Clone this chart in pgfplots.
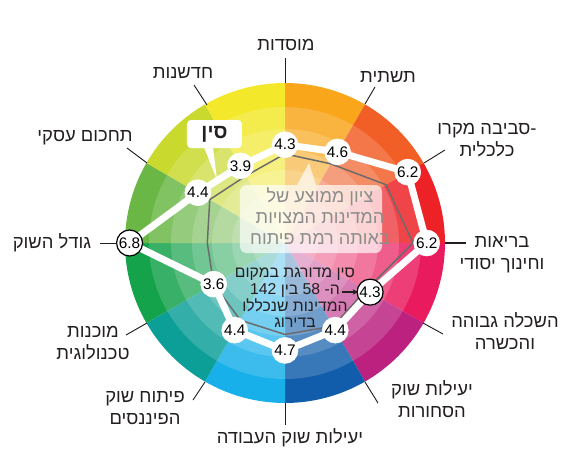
\documentclass[border=0pt]{standalone}
\usepackage{fontspec}
\setmainfont{Liberation Sans}
\newfontfamily\he[Script=Hebrew]{Liberation Sans}
\usepackage{pgfplots}
\pgfplotsset{compat=1.18}
\usepgfplotslibrary{polar}
\usetikzlibrary{backgrounds,arrows.meta}
\TeXXeTstate=1
\newcommand\R[1]{{\he\beginR #1\endR}}

\definecolor{s1}{HTML}{F9A61B}
\definecolor{s2}{HTML}{F15E26}
\definecolor{s3}{HTML}{EC2227}
\definecolor{s4}{HTML}{EA1A5E}
\definecolor{s5}{HTML}{BC2180}
\definecolor{s6}{HTML}{125DAB}
\definecolor{s7}{HTML}{17B0EA}
\definecolor{s8}{HTML}{0C9F98}
\definecolor{s9}{HTML}{14A24B}
\definecolor{s10}{HTML}{6AB746}
\definecolor{s11}{HTML}{C9D92E}
\definecolor{s12}{HTML}{F3E82A}
\definecolor{avg}{HTML}{6B6B6B}
\definecolor{lab}{HTML}{231F20}
\definecolor{gtxt}{HTML}{8C8C8C}

\begin{document}
\begin{tikzpicture}
\begin{polaraxis}[
    width=240pt, height=240pt, scale only axis,
    xmin=0, xmax=360, ymin=0, ymax=7,
    hide axis, clip=false,
    circ/.style={only marks, mark=*, mark size=0.1pt,
      mark options={draw=none, fill=none},
      nodes near coords, point meta=explicit symbolic,
      every node near coord/.style={circle, fill=white, draw=white, line width=0.4pt,
        minimum size=19.5pt, inner sep=0pt, anchor=center,
        font=\fontsize{11.5}{13}\selectfont, text=black}},
  ]
\coordinate (O) at (axis cs:0,0);
% average of countries at the same stage of development
\addplot[avg, line width=1.1pt, line join=round, mark=none] coordinates {
  (90,3.9) (60,4.0) (30,5.1) (0,5.6) (330,4.1) (300,4.2)
  (270,4.0) (240,3.9) (210,3.6) (180,3.4) (150,3.8) (120,3.4) (90,3.9)};
% China
\addplot[white, line width=5.2pt, line join=round, mark=none] coordinates {
  (90,4.3) (60,4.6) (30,6.2) (0,6.2) (330,4.3) (300,4.4)
  (270,4.7) (240,4.4) (210,3.6) (180,6.8) (150,4.4) (120,3.9) (90,4.3)};
\addplot[circ] coordinates {
  (90,4.3) [4.3] (60,4.6) [4.6] (30,6.2) [6.2] (0,6.2) [6.2]
  (300,4.4) [4.4] (270,4.7) [4.7] (240,4.4) [4.4] (210,3.6) [3.6]
  (150,4.4) [4.4] (120,3.9) [3.9]};
\addplot[circ, nodes near coords style={draw=black, line width=0.9pt}] coordinates {
  (330,4.3) [4.3] (180,6.8) [6.8]};
\end{polaraxis}

% colour wheel behind the plot
\begin{scope}[on background layer, shift={(O)}]
  \foreach \a/\c in {90/s1,60/s2,30/s3,0/s4,-30/s5,-60/s6,-90/s7,-120/s8,-150/s9,-180/s10,-210/s11,-240/s12}
    \fill[\c] (0,0) -- (\a:120pt) arc[start angle=\a, delta angle=-30, radius=120pt] -- cycle;
  \foreach \r in {102,85.5,69.75,54.75,39.75,24.75}
    \fill[white, opacity=.16] (0,0) circle (\r pt);
\end{scope}

\begin{scope}[shift={(O)}, x=0.75pt, y=-0.75pt, font=\fontsize{13.8}{16.5}\selectfont,
    lead/.style={draw=lab, line width=0.7pt}]
  % axis labels
  \draw[lead] (0,-160) -- (0,-185);
  \node[text=lab] at (1,-198) {\R{מוסדות}};
  \draw[lead] (80,-139) -- (90,-156);
  \node[text=lab] at (103,-166) {\R{תשתית}};
  \draw[lead] (139,-80) -- (160,-93);
  \node[text=lab, align=center] at (202,-103) {\R{\hbox{-}סביבה מקרו}\\\R{כלכלית}};
  \draw[lab, line width=2pt] (160,0) -- (181,0);
  \node[text=lab, align=center] at (217,11.5) {\R{בריאות}\\\R{וחינוך יסודי}};
  \draw[lead] (138,80) -- (158,91);
  \node[text=lab, align=center] at (220,88.5) {\R{השכלה גבוהה}\\\R{והכשרה}};
  \draw[lead] (80,139) -- (93,160);
  \node[text=lab, align=center] at (147,156.5) {\R{יעילות שוק}\\\R{הסחורות}};
  \draw[lead] (0,160) -- (0,182);
  \node[text=lab] at (5,195) {\R{יעילות שוק העבודה}};
  \draw[lead] (-80,139) -- (-92,157);
  \node[text=lab, align=center] at (-140,165) {\R{פיתוח שוק}\\\R{הפיננסים}};
  \draw[lead] (-138,80) -- (-159,92);
  \node[text=lab, align=center] at (-192,100.5) {\R{מוכנות}\\\R{טכנולוגית}};
  \draw[lead] (-168,0) -- (-185,0);
  \node[text=lab] at (-233,0) {\R{גודל השוק}};
  \draw[lead] (-138,-80) -- (-158,-95);
  \node[text=lab] at (-200,-105) {\R{תחכום עסקי}};
  \draw[lead] (-78,-138) -- (-91,-158);
  \node[text=lab] at (-102,-170) {\R{חדשנות}};

  % callout for the average
  \fill[white, fill opacity=.68] (12,-58) -- (24,-80) -- (31,-58)
    [rounded corners=5pt] -- (97,-58) -- (97,10) -- (-45,10) -- (-45,-58) [sharp corners] -- cycle;
  \node[text=gtxt, align=center, font=\fontsize{13.6}{15.75}\selectfont] at (35,-27)
    {\R{ציון ממוצע של}\\\R{המדינות המצויות}\\\R{באותה רמת פיתוח}};

  % rank note
  \node[text=lab, align=center, font=\fontsize{11.8}{12.5}\selectfont] at (10,55)
    {\R{סין מדורגת במקום}\\\R{ה\hbox{-} 58 בין 142}\\\R{המדינות שנכללו}\\\R{בדירוג}};
  \draw[-{Stealth[length=4pt,width=4pt]}, line width=0.8pt, lab] (57,49) -- (73,49);

  % China tag
  \fill[white] (-81,-96) -- (-68,-63) -- (-72,-96) -- cycle;
  \fill[white, rounded corners=3pt] (-98,-123) rectangle (-43,-95);
  \node[text=lab, font=\bfseries\fontsize{15}{18}\selectfont] at (-70.5,-109) {\R{סין}};
\end{scope}

\pgfresetboundingbox
\path[use as bounding box] (O) ++(-213.75pt,-164.25pt) rectangle ++(429pt,346.5pt);
\end{tikzpicture}
\end{document}
